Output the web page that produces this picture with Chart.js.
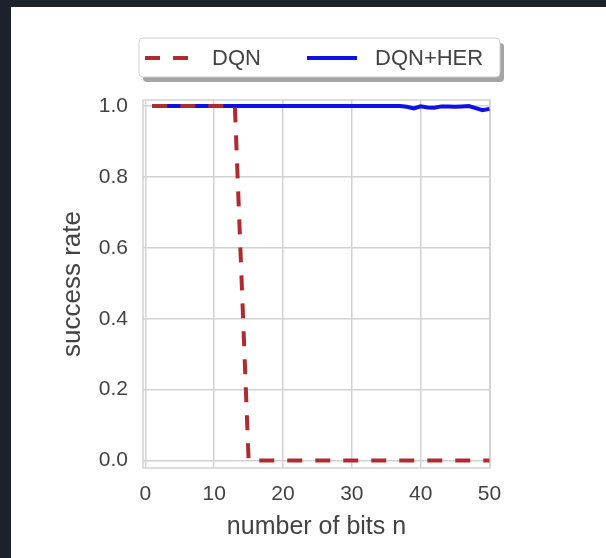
<!DOCTYPE html>
<html>
<head>
<meta charset="utf-8">
<script src="https://cdn.jsdelivr.net/npm/chart.js@4.4.1/dist/chart.umd.min.js"></script>
<style>
  html, body { margin: 0; padding: 0; width: 606px; height: 558px; overflow: hidden; background: #1c212b; }
  #panel { position: absolute; left: 11px; top: 7px; width: 595px; height: 551px; background: #ffffff; }
  canvas { display: block; }
</style>
</head>
<body>
<div id="panel"><canvas id="chart" width="595" height="551"></canvas></div>
<script>
// Bit-flipping task: success rate against number of bits
const bits = [
  1, 2, 3, 4, 5, 6, 7, 8, 9, 10,
  11, 12, 13, 14, 15, 16, 17, 18, 19, 20,
  21, 22, 23, 24, 25, 26, 27, 28, 29, 30,
  31, 32, 33, 34, 35, 36, 37, 38, 39, 40,
  41, 42, 43, 44, 45, 46, 47, 48, 49, 50
];
const dqnRate = [
  1, 1, 1, 1, 1, 1, 1, 1, 1, 1,
  1, 1, 1, 0.5, 0, 0, 0, 0, 0, 0,
  0, 0, 0, 0, 0, 0, 0, 0, 0, 0,
  0, 0, 0, 0, 0, 0, 0, 0, 0, 0,
  0, 0, 0, 0, 0, 0, 0, 0, 0, 0
];
const herRate = [
  1, 1, 1, 1, 1, 1, 1, 1, 1, 1,
  1, 1, 1, 1, 1, 1, 1, 1, 1, 1,
  1, 1, 1, 1, 1, 1, 1, 1, 1, 1,
  1, 1, 1, 1, 1, 1, 1, 0.998, 0.993, 0.999,
  0.996, 0.995, 0.999, 0.999, 0.998, 0.999, 1.0, 0.994, 0.988, 0.992
];
const seriesNames = ['DQN', 'DQN+HER'];
const xTicks = [0, 10, 20, 30, 40, 50];
const yTicks = [0.0, 0.2, 0.4, 0.6, 0.8, 1.0];

const FONT = 'Liberation Sans, Arial, Helvetica, sans-serif';
const TEXT = '#434343';
const GRID = '#d2d2d2';

const toPoints = (ys) => bits.map((n, i) => ({ x: n, y: ys[i] }));

// light grey frame around the whole plotting area
const framePlugin = {
  id: 'frame',
  beforeDatasetsDraw(chart) {
    const { ctx, chartArea: a } = chart;
    ctx.save();
    ctx.strokeStyle = GRID;
    ctx.lineWidth = 1.5;
    ctx.strokeRect(a.left, a.top, a.right - a.left, a.bottom - a.top);
    ctx.restore();
  }
};

// boxed legend with drop shadow above the axes
const legendPlugin = {
  id: 'boxLegend',
  afterDraw(chart) {
    const { ctx } = chart;
    const box = { x: 128, y: 31, w: 361, h: 39 };
    ctx.save();
    // shadow
    ctx.fillStyle = '#a4a4a4';
    roundRect(ctx, box.x + 4, box.y + 5, box.w, box.h, 4);
    ctx.fill();
    // box
    ctx.fillStyle = '#ffffff';
    ctx.strokeStyle = '#cfcfcf';
    ctx.lineWidth = 1;
    roundRect(ctx, box.x, box.y, box.w, box.h, 4);
    ctx.fill();
    ctx.stroke();

    const items = [
      { ds: chart.data.datasets[0], x0: 134, x1: 177, tx: 201 },
      { ds: chart.data.datasets[1], x0: 296, x1: 346, tx: 364 }
    ];
    const cy = box.y + 20;
    items.forEach(it => {
      ctx.beginPath();
      ctx.strokeStyle = it.ds.borderColor;
      ctx.lineWidth = it.ds.borderWidth;
      ctx.setLineDash(it.ds.borderDash || []);
      ctx.lineCap = 'butt';
      ctx.moveTo(it.x0, cy);
      ctx.lineTo(it.x1, cy);
      ctx.stroke();
      ctx.setLineDash([]);
      ctx.fillStyle = TEXT;
      ctx.font = '22px ' + FONT;
      ctx.textBaseline = 'middle';
      ctx.textAlign = 'left';
      ctx.fillText(it.ds.label, it.tx, cy + 1);
    });
    ctx.restore();
  }
};

function roundRect(ctx, x, y, w, h, r) {
  ctx.beginPath();
  ctx.moveTo(x + r, y);
  ctx.lineTo(x + w - r, y);
  ctx.arcTo(x + w, y, x + w, y + r, r);
  ctx.lineTo(x + w, y + h - r);
  ctx.arcTo(x + w, y + h, x + w - r, y + h, r);
  ctx.lineTo(x + r, y + h);
  ctx.arcTo(x, y + h, x, y + h - r, r);
  ctx.lineTo(x, y + r);
  ctx.arcTo(x, y, x + r, y, r);
  ctx.closePath();
}

new Chart(document.getElementById('chart'), {
  type: 'line',
  data: {
    datasets: [
      {
        label: seriesNames[0],
        data: toPoints(dqnRate),
        borderColor: '#ae2b30',
        borderWidth: 4,
        borderDash: [15, 13],
        pointRadius: 0,
        tension: 0,
        fill: false
      },
      {
        label: seriesNames[1],
        data: toPoints(herRate),
        borderColor: '#1010e6',
        borderWidth: 4,
        pointRadius: 0,
        tension: 0,
        fill: false
      }
    ]
  },
  options: {
    responsive: false,
    animation: false,
    devicePixelRatio: 1,
    layout: { padding: { left: 0, right: 116, top: 93, bottom: 0 } },
    plugins: {
      legend: { display: false },
      tooltip: { enabled: false }
    },
    scales: {
      x: {
        type: 'linear',
        min: -0.35,
        max: 50.08,
        afterBuildTicks: (s) => { s.ticks = xTicks.map(v => ({ value: v })); },
        afterFit: (s) => { s.height = 90; },
        grid: { color: GRID, lineWidth: 1.5, drawTicks: false },
        border: { display: false },
        ticks: {
          padding: 14,
          color: TEXT,
          font: { family: FONT, size: 21 },
          maxRotation: 0,
          callback: (v) => String(v)
        },
        title: {
          display: true,
          text: 'number of bits n',
          color: TEXT,
          font: { family: FONT, size: 25 },
          padding: { top: 0, bottom: 16 }
        }
      },
      y: {
        type: 'linear',
        min: -0.021,
        max: 1.017,
        afterBuildTicks: (s) => { s.ticks = yTicks.map(v => ({ value: v })); },
        afterFit: (s) => { s.width = 132; },
        grid: { color: GRID, lineWidth: 1.5, drawTicks: false },
        border: { display: false },
        ticks: {
          padding: 15,
          color: TEXT,
          font: { family: FONT, size: 21 },
          callback: (v) => v.toFixed(1)
        },
        title: {
          display: true,
          text: 'success rate',
          color: TEXT,
          font: { family: FONT, size: 26 },
          padding: { top: 46, bottom: 0 }
        }
      }
    }
  },
  plugins: [framePlugin, legendPlugin]
});
</script>
</body>
</html>
